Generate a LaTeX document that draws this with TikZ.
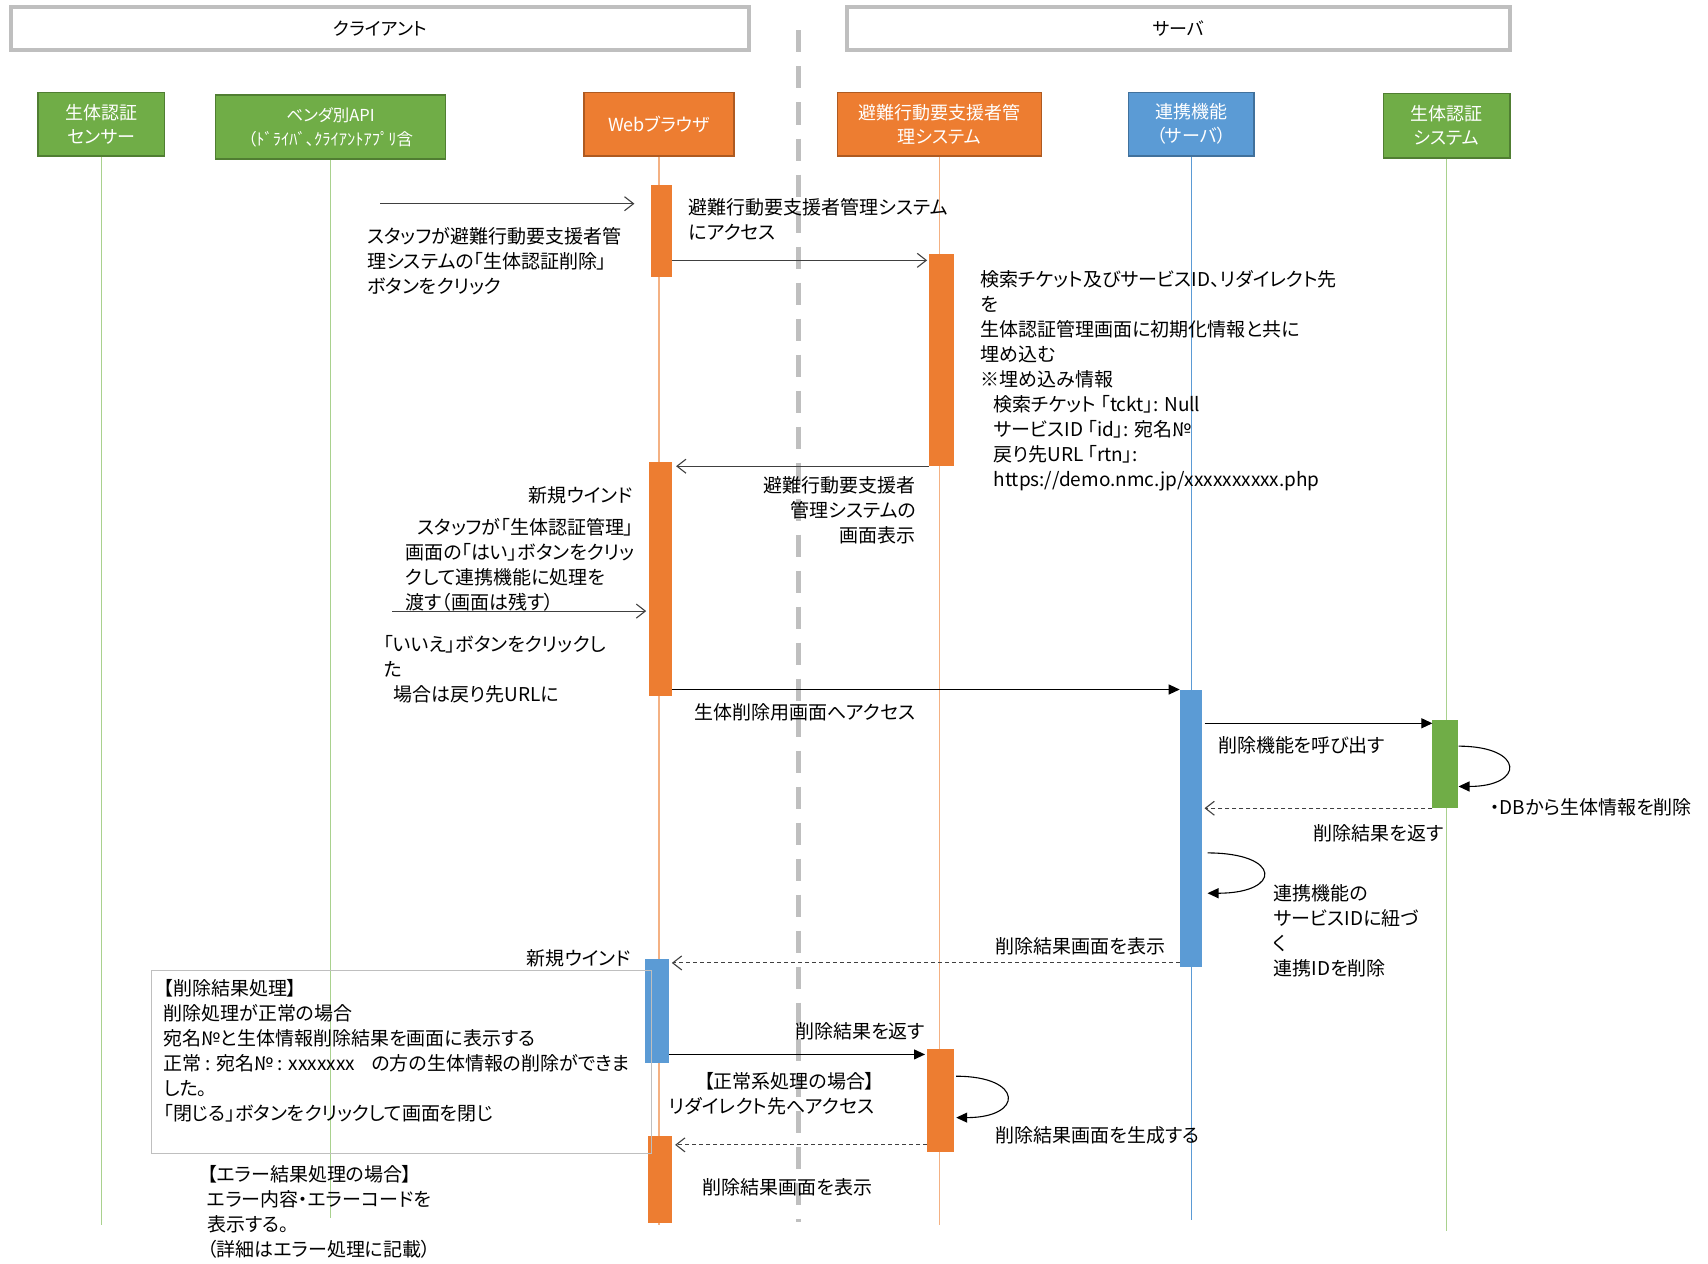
\documentclass[tikz,border=0pt]{standalone}
\usepackage{fontspec}
\setmainfont{Noto Sans CJK JP}[RawFeature=+palt]
\usetikzlibrary{arrows.meta}

\definecolor{accO}{HTML}{ED7D31}
\definecolor{accOd}{HTML}{AE5A21}
\definecolor{accOl}{HTML}{F4B183}
\definecolor{accG}{HTML}{70AD47}
\definecolor{accGd}{HTML}{507E32}
\definecolor{accGl}{HTML}{A9D18E}
\definecolor{accB}{HTML}{5B9BD5}
\definecolor{accBd}{HTML}{41719C}
\definecolor{frame}{HTML}{BFBFBF}
\definecolor{ink}{HTML}{404040}

\newcommand\bodyfont{\fontsize{19}{25}\selectfont}
\newcommand\partfont{\fontsize{18}{24}\selectfont}

\tikzset{
  hdrbox/.style={draw=frame, line width=4pt, fill=white, inner sep=0pt,
    font=\fontsize{18}{22}\selectfont},
  partbox/.style={draw=#1, line width=1.5pt, text=white, align=center,
    inner sep=0pt, font=\partfont},
  lifeline/.style={draw=#1, line width=1.2pt},
  actbar/.style={fill=#1, draw=none, inner sep=0pt, outer sep=0pt},
  sepline/.style={draw=frame, line width=5pt, dash pattern=on 22pt off 14pt},
  msgopen/.style={draw=ink, line width=1.1pt,
    -{Straight Barb[length=9pt,width=14pt,line width=1.1pt]}},
  msgfill/.style={draw=black, line width=1.1pt, -{Triangle[length=11pt,width=10pt]}},
  msgdash/.style={draw=ink, line width=1.1pt, dash pattern=on 4pt off 3pt,
    -{Straight Barb[length=9pt,width=14pt,line width=1.1pt]}},
  selfloop/.style={draw=black, line width=1.1pt, -{Triangle[length=11pt,width=10pt]}},
  lbl/.style={inner sep=0pt, font=\bodyfont, align=left},
  lblr/.style={inner sep=0pt, font=\bodyfont, align=right},
  notebox/.style={draw=frame, line width=1.5pt, inner sep=0pt},
}

\begin{document}
\begin{tikzpicture}[x=1.0893pt, y=-1.0893pt]
\useasboundingbox (0,0) rectangle (1568,1160);
\fill[white] (0,0) rectangle (1568,1160);

% client / server divider
\coordinate (septop) at (733,28);
\coordinate (sepbot) at (733,1122);
\draw[sepline] (septop) -- (sepbot);

% section headers
\node[hdrbox, minimum width=738.5pt, minimum height=43.6pt] (client) at (349,26) {クライアント};
\node[hdrbox, minimum width=662.3pt, minimum height=43.6pt] (server) at (1082,26) {サーバ};

% participants
\node[partbox=accGd, fill=accG, minimum width=126.4pt, minimum height=63.2pt] (sensor) at (93,114) {生体認証\\センサー};
\node[partbox=accGd, fill=accG, minimum width=229.8pt, minimum height=64.3pt,
      font=\fontsize{16.5}{24}\selectfont] (api) at (303.5,116.5) {ベンダ別API\\（ﾄﾞﾗｲﾊﾞ、ｸﾗｲｱﾝﾄｱﾌﾟﾘ含};
\node[partbox=accOd, fill=accO, minimum width=150.3pt, minimum height=63.2pt] (browser) at (605,114) {Webブラウザ};
\node[partbox=accOd, fill=accO, minimum width=203.7pt, minimum height=63.2pt] (mgmt) at (862.5,114) {避難行動要支援者管\\理システム};
\node[partbox=accBd, fill=accB, minimum width=125.3pt, minimum height=63.2pt] (link) at (1093.5,114) {連携機能\\（サーバ）};
\node[partbox=accGd, fill=accG, minimum width=126.4pt, minimum height=64.3pt] (bio) at (1328,115.5) {生体認証\\システム};

% lifeline ends
\coordinate (e1125) at (0,1125);
\coordinate (e1118) at (0,1118);
\coordinate (e1120) at (0,1120);
\coordinate (e1130) at (0,1130);
\draw[lifeline=accGl] (sensor.south) -- (sensor.south |- e1125);
\draw[lifeline=accGl] (api.south) -- (api.south |- e1118);
\draw[lifeline=accOl] (browser.south) -- (browser.south |- e1125);
\draw[lifeline=accOl] (mgmt.south) -- (mgmt.south |- e1125);
\draw[lifeline=accB, line width=0.9pt] (link.south) -- (link.south |- e1120);
\draw[lifeline=accGl] (bio.south) -- (bio.south |- e1130);

% activation bars
\node[actbar=accO, minimum width=20.7pt, minimum height=91.5pt] (b1) at (607.5,212) {};
\node[actbar=accO, minimum width=25.1pt, minimum height=212.4pt] (s1) at (864.5,330.5) {};
\node[actbar=accO, minimum width=22.9pt, minimum height=234.2pt] (b2) at (606.5,531.5) {};
\node[actbar=accB, minimum width=21.8pt, minimum height=277.8pt] (r1) at (1093,760.5) {};
\node[actbar=accG, minimum width=25.1pt, minimum height=88.2pt] (g1) at (1326.5,701.5) {};
\node[actbar=accB, minimum width=24pt, minimum height=104.6pt] (b3) at (603,928) {};
\node[actbar=accO, minimum width=27.2pt, minimum height=103.5pt] (s2) at (863.5,1010.5) {};
\node[actbar=accO, minimum width=24pt, minimum height=87.1pt] (b4) at (606,1083) {};

% message rows
\coordinate (r187) at (0,187);
\coordinate (r239) at (0,239);
\coordinate (r664) at (0,664);
\coordinate (r685) at (0,685);
\coordinate (r722) at (0,722);
\coordinate (r783) at (0,783);
\coordinate (r820) at (0,820);
\coordinate (r884) at (0,884);
\coordinate (r968) at (0,968);
\coordinate (r988) at (0,988);
\coordinate (r1026) at (0,1026);
\coordinate (r1051) at (0,1051);
\coordinate (staffin) at (349,187);
\coordinate (yesin) at (360,561);

% messages
\draw[msgopen, shorten >=17pt] (staffin) -- (b1.west |- staffin);
\draw[msgopen, shorten >=2pt] (b1.east |- r239) -- (s1.west |- r239);
\draw[msgopen, shorten >=4pt] (s1.south west) -- (b2.east |- s1.south west);
\draw[msgopen, shorten >=3pt] (yesin) -- (b2.west |- yesin);
\draw[msgfill] (b2.east |- r1.north west) -- (r1.north west);
\draw[msgfill, shorten <=3pt] (r1.east |- r664) -- (g1.west |- r664);
\draw[selfloop, shorten <=1pt, shorten >=1pt] (g1.east |- r685) .. controls +(62,0) and +(62,0) .. (g1.east |- r722);
\draw[msgdash, shorten >=3pt] (g1.south west) -- (r1.east |- g1.south west);
\draw[selfloop, shorten <=6pt, shorten >=6pt] (r1.east |- r783) .. controls +(74,0) and +(74,0) .. (r1.east |- r820);
\draw[msgdash, shorten >=3pt] (r1.west |- r884) -- (b3.east |- r884);
\draw[msgfill, shorten >=2pt] (b3.east |- r968) -- (s2.west |- r968);
\draw[selfloop, shorten <=2pt, shorten >=2pt] (s2.east |- r988) .. controls +(64,0) and +(64,0) .. (s2.east |- r1026);
\draw[msgdash, shorten >=3pt] (s2.west |- r1051) -- (b4.east |- r1051);

% result note frame
\node[notebox, minimum width=500pt, minimum height=183pt] (note) at (368.5,975) {};

% labels
\node[lbl, anchor=north west] (t1) at (632,182.4) {避難行動要支援者管理システム\\にアクセス};
\node[lbl, anchor=north west] (t2) at (337,208.4) {スタッフが避難行動要支援者管\\理システムの「生体認証削除」\\ボタンをクリック};
\node[lbl, anchor=north west] (t3) at (900,248.4) {検索チケット及びサービスID、リダイレクト先\\を\\生体認証管理画面に初期化情報と共に\\埋め込む\\※埋め込み情報\\
  \hspace*{13pt}検索チケット 「tckt」: Null\\
  \hspace*{13pt}サービスID 「id」: 宛名№\\
  \hspace*{13pt}戻り先URL 「rtn」:\\
  \hspace*{13pt}https://demo.nmc.jp/xxxxxxxxxx.php};
\node[lblr, anchor=north east] (t4) at (841,437.4) {避難行動要支援者\\管理システムの\\画面表示};
\node[lbl, anchor=east] (t5) at (581,455) {新規ウインド};
\node[lbl, anchor=north west] (t6) at (372,475.4) {\hspace*{12pt}スタッフが「生体認証管理」\\画面の「はい」ボタンをクリッ\\クして連携機能に処理を\\渡す（画面は残す）};
\node[lbl, anchor=north west] (t7) at (352,583.4) {「いいえ」ボタンをクリックし\\た\\\hspace*{10pt}場合は戻り先URLに};
\node[lbl, anchor=west] (t8) at (637,654) {生体削除用画面へアクセス};
\node[lbl, anchor=west] (t9) at (1118,684) {削除機能を呼び出す};
\node[lbl, anchor=west] (t10) at (1368,741) {・DBから生体情報を削除};
\node[lbl, anchor=west] (t11) at (1206,765) {削除結果を返す};
\node[lbl, anchor=north west] (t12) at (1169,811.4) {連携機能の\\サービスIDに紐づ\\く\\連携IDを削除};
\node[lbl, anchor=east] (t13) at (1070,869) {削除結果画面を表示};
\node[lbl, anchor=east] (t14) at (579,880) {新規ウインド};
\node[lbl, anchor=north west] (t15) at (150,899.4) {【削除結果処理】\\削除処理が正常の場合\\宛名№と生体情報削除結果を画面に表示する\\正常 : 宛名№ : xxxxxxx\hspace{12pt} の方の生体情報の削除ができま\\した。\\「閉じる」ボタンをクリックして画面を閉じ};
\node[lbl, anchor=west] (t16) at (730,947) {削除結果を返す};
\node[lblr, anchor=north east] (t17) at (803,984.4) {【正常系処理の場合】\\リダイレクト先へアクセス};
\node[lbl, anchor=west] (t18) at (914,1042) {削除結果画面を生成する};
\node[lbl, anchor=west] (t19) at (645,1090) {削除結果画面を表示};
\node[lbl, anchor=north west] (t20) at (190,1069.4) {【エラー結果処理の場合】\\エラー内容・エラーコードを\\表示する。\\（詳細はエラー処理に記載）};
\end{tikzpicture}
\end{document}
